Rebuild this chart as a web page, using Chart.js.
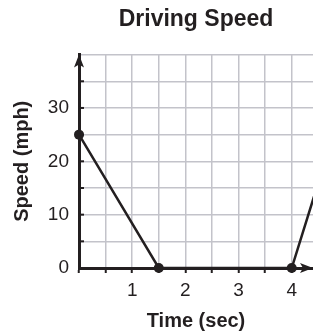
<!DOCTYPE html>
<html>
<head>
<meta charset="utf-8">
<script src="https://cdn.jsdelivr.net/npm/chart.js@4"></script>
<style>
  html, body { margin: 0; padding: 0; background: #fff; overflow: hidden; }
</style>
</head>
<body>
<canvas id="speedChart" width="313" height="333"></canvas>
<script>
// === DATA ===
const timeSec = [0, 1.5, 4, 4.5];
const speedMph = [25, 0, 0, 16];
const xGridSteps = [0, 0.5, 1, 1.5, 2, 2.5, 3, 3.5, 4];
const yGridSteps = [0, 5, 10, 15, 20, 25, 30, 35, 40];
const xTickLabels = [1, 2, 3, 4];
const yTickLabels = [0, 10, 20, 30];

const INK = "#231f20";
const GRID = "#c3c3ca";
const FONT = "'Liberation Sans', Arial, Helvetica, sans-serif";

function useTicks(list) {
  return function (scale) {
    scale.ticks = list.map(v => ({ value: v }));
  };
}

function labelFrom(list) {
  return v => (list.includes(v) ? v : "");
}

// arrows on the axes + small inward ticks on the y axis
const axisDeco = {
  id: "axisDeco",
  afterDraw(chart) {
    const { ctx, chartArea: a, scales: { x, y } } = chart;
    ctx.save();
    ctx.strokeStyle = INK;
    ctx.fillStyle = INK;
    ctx.lineWidth = 2;
    y.ticks.forEach(t => {
      if (t.value <= 0 || t.value >= y.max) return;
      const py = y.getPixelForValue(t.value);
      ctx.beginPath();
      ctx.moveTo(a.left, py);
      ctx.lineTo(a.left + 5, py);
      ctx.stroke();
    });
    const ax = x.getPixelForValue(0);
    // y arrow
    ctx.beginPath();
    ctx.moveTo(ax, a.top);
    ctx.lineTo(ax - 5, a.top + 13);
    ctx.lineTo(ax, a.top + 10);
    ctx.lineTo(ax + 5, a.top + 13);
    ctx.closePath();
    ctx.fill();
    // x arrow
    const by = y.getPixelForValue(0);
    ctx.beginPath();
    ctx.moveTo(a.right, by);
    ctx.lineTo(a.right - 13, by - 5);
    ctx.lineTo(a.right - 10, by);
    ctx.lineTo(a.right - 13, by + 5);
    ctx.closePath();
    ctx.fill();
    ctx.restore();
  }
};

new Chart(document.getElementById("speedChart"), {
  type: "line",
  data: {
    datasets: [
      {
        label: "Speed",
        data: timeSec.map((t, i) => ({ x: t, y: speedMph[i] })),
        borderColor: INK,
        backgroundColor: INK,
        borderWidth: 2.5,
        pointRadius: 5,
        pointBorderWidth: 0,
        tension: 0,
        clip: false
      }
    ]
  },
  options: {
    responsive: false,
    animation: false,
    layout: { padding: 0, autoPadding: false },
    plugins: {
      legend: { display: false },
      tooltip: { enabled: false },
      title: {
        display: true,
        text: "Driving Speed",
        fullSize: false,
        color: INK,
        font: { family: FONT, size: 23, weight: "bold" },
        padding: { top: 6, bottom: 21 }
      }
    },
    scales: {
      x: {
        type: "linear",
        min: 0,
        max: 4.4,
        afterBuildTicks: useTicks(xGridSteps),
        afterFit: s => { s.height = 65; },
        ticks: {
          autoSkip: false,
          maxRotation: 0,
          padding: 6,
          color: INK,
          font: { family: FONT, size: 19 },
          callback: labelFrom(xTickLabels)
        },
        grid: { color: GRID, lineWidth: 1.5, tickColor: INK, tickWidth: 2, tickLength: 5 },
        border: { color: INK, width: 3 },
        title: {
          display: true,
          text: "Time (sec)",
          color: INK,
          font: { family: FONT, size: 20, weight: "bold" },
          padding: { top: 0, bottom: 0 }
        }
      },
      y: {
        min: 0,
        max: 40,
        afterBuildTicks: useTicks(yGridSteps),
        afterFit: s => { s.width = 79; },
        ticks: {
          autoSkip: false,
          padding: 10,
          color: INK,
          font: { family: FONT, size: 19 },
          callback: labelFrom(yTickLabels)
        },
        grid: { color: GRID, lineWidth: 1.5, drawTicks: false },
        border: { color: INK, width: 3 },
        title: {
          display: true,
          text: "Speed (mph)",
          color: INK,
          font: { family: FONT, size: 20, weight: "bold" },
          padding: { top: 10, bottom: 0 }
        }
      }
    }
  },
  plugins: [axisDeco]
});
</script>
</body>
</html>
